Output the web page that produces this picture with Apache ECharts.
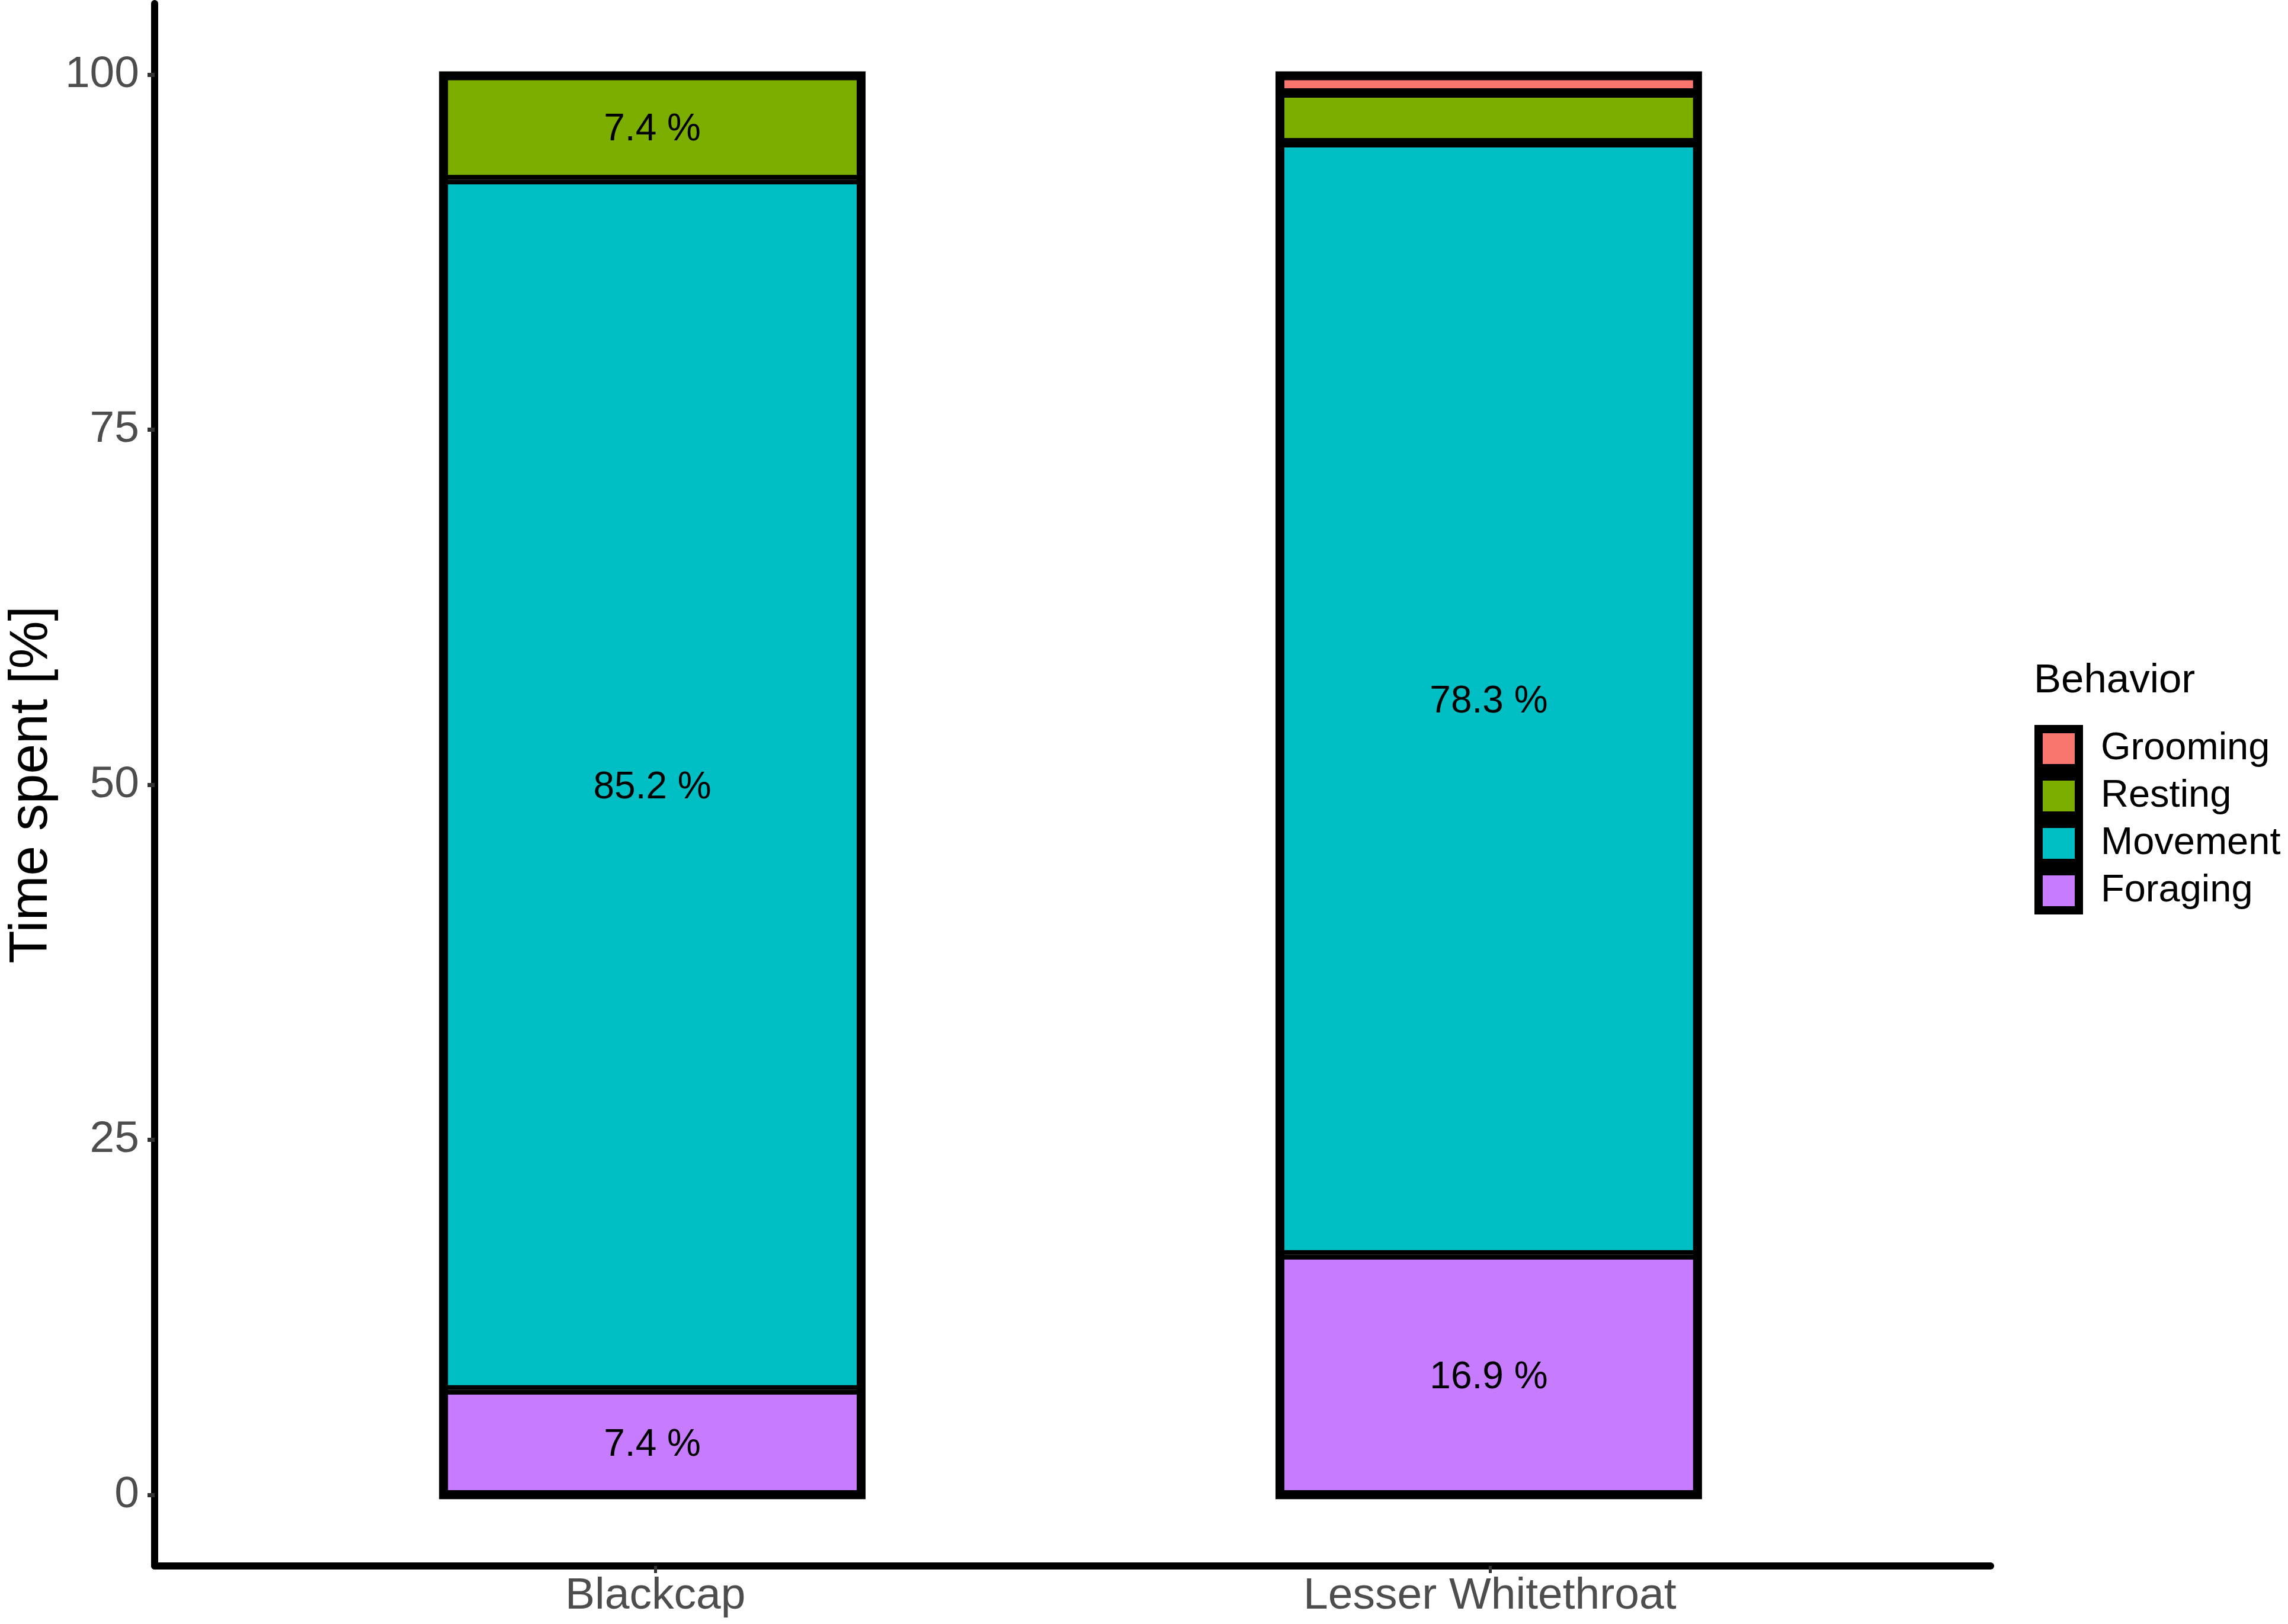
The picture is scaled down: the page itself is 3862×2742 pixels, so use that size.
<!DOCTYPE html>
<html>
<head>
<meta charset="utf-8">
<script src="https://cdn.jsdelivr.net/npm/echarts@6/dist/echarts.min.js"></script>
<style>
html,body{margin:0;padding:0;background:#fff;}
#chart{width:3862px;height:2742px;}
</style>
</head>
<body>
<div id="chart"></div>
<script>
// ---- data ----
const categories = ['Blackcap', 'Lesser Whitethroat'];
const categoryPositions = [1, 2];
const foraging = [7.4, 16.9];
const movement = [85.2, 78.3];
const resting  = [7.4, 3.5];
const grooming = [0.0, 1.3];
const yTicks = [0, 25, 50, 75, 100];
const legendOrder = ['Grooming', 'Resting', 'Movement', 'Foraging'];
const labelThreshold = 5;

const colors = {
  Grooming: '#F8766D',
  Resting: '#7CAE00',
  Movement: '#00BFC4',
  Foraging: '#C77CFF'
};
const FONT = "'Liberation Sans', Arial, sans-serif";

// layout: outer axis frame (ggplot-style expansion of 0.6 category units each side)
const W = 3862, H = 2742;
const frame = { left: 254, right: 502, top: 6, bottom: 98 };
const xMin = 0.4, xMax = 2.6;
const yMin = -5, yMax = 105;
const unitPx = (W - frame.left - frame.right) / (xMax - xMin);
const plotH = H - frame.top - frame.bottom;
const yPx = plotH / (yMax - yMin);
// inner grid holding category bands [0.5, 2.5]
const inner = {
  left: frame.left + (0.5 - xMin) * unitPx,
  right: frame.right + (xMax - 2.5) * unitPx,
  top: frame.top,
  bottom: frame.bottom
};
// outline grid: same bands, but 0..100 mapped OUTLINE_PAD px further out so the
// (inside-drawn) outline stroke is centred on the bar edges like ggplot's
const OUTLINE_W = 15;
const OUTLINE_PAD = 7;
const k = (100 * yPx + 2 * OUTLINE_PAD) / (100 * yPx);
const outlineGrid = {
  left: inner.left,
  right: inner.right,
  top: frame.top + 5 * yPx - OUTLINE_PAD - 5 * yPx * k,
  bottom: frame.bottom + 5 * yPx - OUTLINE_PAD - 5 * yPx * k
};
const barPx = 0.5 * unitPx;

function makeSeries(name, values) {
  return {
    name: name,
    type: 'bar',
    stack: 'total',
    xAxisIndex: 1,
    yAxisIndex: 1,
    barWidth: barPx,
    itemStyle: { color: colors[name], borderColor: '#000', borderWidth: 8 },
    label: {
      show: true,
      position: 'inside',
      offset: [0, 5],
      color: '#000',
      fontSize: 64,
      fontFamily: FONT,
      formatter: p => p.value.toFixed(1) + ' %'
    },
    data: values.map(v => ({
      value: v,
      label: { show: v > labelThreshold }
    }))
  };
}

// outline of each whole bar (sum of its segments)
const totals = categories.map((c, i) => foraging[i] + movement[i] + resting[i] + grooming[i]);

const chart = echarts.init(document.getElementById('chart'), null, { renderer: 'canvas' });
chart.setOption({
  backgroundColor: '#fff',
  animation: false,
  title: {
    text: 'Behavior',
    left: 3433,
    top: 1115,
    textStyle: { fontFamily: FONT, fontSize: 69, fontWeight: 'normal', color: '#000' },
    padding: 0
  },
  legend: {
    data: legendOrder,
    orient: 'vertical',
    left: 3434,
    top: 1224,
    icon: 'rect',
    itemWidth: 68,
    itemHeight: 66,
    itemGap: 0,
    padding: 0,
    itemStyle: { borderColor: '#000', borderWidth: 14 },
    textStyle: { fontFamily: FONT, fontSize: 65, color: '#000', padding: [0, 0, 0, 32] }
  },
  grid: [
    { left: frame.left, right: frame.right, top: frame.top, bottom: frame.bottom, containLabel: false },
    { left: inner.left, right: inner.right, top: inner.top, bottom: inner.bottom, containLabel: false },
    { left: outlineGrid.left, right: outlineGrid.right, top: outlineGrid.top, bottom: outlineGrid.bottom, containLabel: false }
  ],
  xAxis: [
    {
      gridIndex: 0,
      type: 'value',
      min: xMin,
      max: xMax,
      splitLine: { show: false },
      axisLine: { show: true, onZero: false, lineStyle: { color: '#000', width: 12 } },
      axisTick: { show: true, customValues: categoryPositions, length: 12, lineStyle: { color: '#333', width: 5 } },
      axisLabel: {
        customValues: categoryPositions,
        formatter: v => categories[categoryPositions.indexOf(v)] || '',
        fontFamily: FONT, fontSize: 75, color: '#4D4D4D', margin: 14
      }
    },
    { gridIndex: 1, type: 'category', data: categories, show: false },
    { gridIndex: 2, type: 'category', data: categories, show: false }
  ],
  yAxis: [
    {
      gridIndex: 0,
      type: 'value',
      min: yMin,
      max: yMax,
      name: 'Time spent [%]',
      nameLocation: 'middle',
      nameGap: 150,
      nameTextStyle: { fontFamily: FONT, fontSize: 91, color: '#000' },
      splitLine: { show: false },
      axisLine: { show: true, onZero: false, lineStyle: { color: '#000', width: 12 } },
      axisTick: { show: true, customValues: yTicks, length: 12, lineStyle: { color: '#333', width: 7 } },
      axisLabel: { customValues: yTicks, fontFamily: FONT, fontSize: 75, color: '#4D4D4D', margin: 26 }
    },
    { gridIndex: 1, type: 'value', min: yMin, max: yMax, show: false },
    { gridIndex: 2, type: 'value', min: yMin, max: yMax, show: false }
  ],
  series: [
    makeSeries('Foraging', foraging),
    makeSeries('Movement', movement),
    makeSeries('Resting', resting),
    makeSeries('Grooming', grooming),
    {
      name: 'outline',
      type: 'bar',
      xAxisIndex: 2,
      yAxisIndex: 2,
      barWidth: barPx + 2 * OUTLINE_PAD,
      z: 3,
      silent: true,
      itemStyle: { color: 'rgba(0,0,0,0)', borderColor: '#000', borderWidth: OUTLINE_W },
      label: { show: false },
      data: totals
    }
  ]
});
</script>
</body>
</html>
